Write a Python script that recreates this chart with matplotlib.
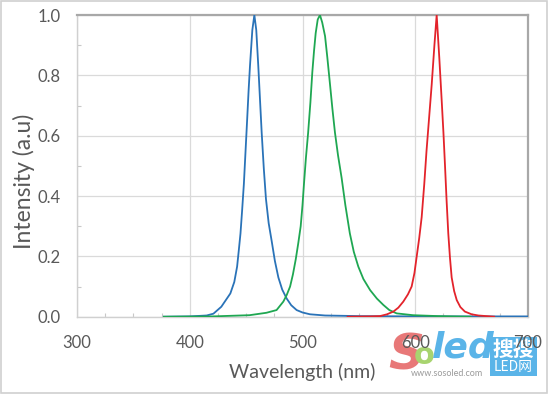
import matplotlib
matplotlib.use("Agg")
import matplotlib.pyplot as plt
from matplotlib.ticker import MultipleLocator
from matplotlib.patches import Rectangle

# Data
blue_x = [377, 400, 415, 421, 428, 436, 439.5, 442, 443.5, 445, 446.5, 448, 449.5, 451, 452.2, 453.4, 455.5,
          457.3, 459, 460.8, 462.3, 463.8, 465.7, 467.6, 470, 472.7, 475.5, 478.6, 482, 486, 490, 494.8,
          500, 506.6, 520, 550, 600, 650, 700]
blue_y = [0.0, 0.001, 0.004, 0.01, 0.033, 0.077, 0.115, 0.166, 0.22, 0.276, 0.355, 0.44, 0.55, 0.66, 0.75,
          0.83, 0.95, 1.0, 0.95, 0.83, 0.72, 0.61, 0.49, 0.39, 0.31, 0.25, 0.185, 0.13, 0.09, 0.06, 0.038,
          0.022, 0.014, 0.008, 0.004, 0.002, 0.001, 0.001, 0.001]
green_x = [377, 420, 453, 468, 477, 483, 486, 489, 491.5, 494, 496.3, 498.4, 500, 501.3, 503, 505, 507,
           508.7, 510.2, 511.7, 513.5, 515.5, 517.5, 520, 522, 524.4, 526.5, 528.8, 531.5, 534.7, 538, 542,
           545.5, 549.5, 554, 560, 566, 571.7, 577, 583.5, 598, 620, 649]
green_y = [0.0, 0.001, 0.005, 0.013, 0.022, 0.05, 0.072, 0.1, 0.14, 0.19, 0.245, 0.30, 0.37, 0.44, 0.525,
           0.61, 0.71, 0.81, 0.88, 0.94, 0.985, 1.0, 0.975, 0.93, 0.86, 0.77, 0.69, 0.61, 0.535, 0.46, 0.37,
           0.276, 0.215, 0.166, 0.125, 0.088, 0.06, 0.039, 0.022, 0.011, 0.005, 0.002, 0.0]
red_x = [540, 560, 568.7, 575, 580.6, 585, 589.4, 593.5, 596.8, 599.3, 601.3, 603.5, 605.7, 608, 610, 612.3,
         614.6, 617, 619, 621.3, 623.4, 625, 626.4, 627.8, 629.3, 630.8, 632.3, 634.5, 636.8, 640, 644, 650,
         656, 670]
red_y = [0.0, 0.001, 0.002, 0.008, 0.017, 0.03, 0.05, 0.074, 0.1, 0.145, 0.2, 0.26, 0.33, 0.44, 0.55, 0.66,
         0.77, 0.9, 1.0, 0.86, 0.72, 0.61, 0.50, 0.385, 0.276, 0.195, 0.13, 0.085, 0.055, 0.032, 0.017,
         0.008, 0.004, 0.0]

x_ticks = [300, 400, 500, 600, 700]
y_ticks = [0.0, 0.2, 0.4, 0.6, 0.8, 1.0]
y_tick_labels = ["0.0", "0.2", "0.4", "0.6", "0.8", "1.0"]

plt.rcParams['font.family'] = ['Lato', 'Noto Sans CJK SC', 'DejaVu Sans']

W, H = 550, 395
fig = plt.figure(figsize=(W / 100, H / 100), dpi=100)
fig.patch.set_facecolor('white')
# figure frame
fig.add_artist(Rectangle((0.002, 0.004), 0.993, 0.994, transform=fig.transFigure,
                         fill=False, edgecolor='#d0d0d0', linewidth=1.2))

L, R, T, B = 77, 528, 15, 316.7
ax = fig.add_axes([L / W, (H - B) / H, (R - L) / W, (B - T) / H])
ax.set_zorder(1)
ax.patch.set_alpha(0)

ax.plot(blue_x, blue_y, color='#2a73b8', lw=1.3, zorder=3)
ax.plot(green_x, green_y, color='#1fa752', lw=1.3, zorder=3)
ax.plot(red_x, red_y, color='#e3232b', lw=1.3, zorder=4)

ax.set_xlim(300, 700)
ax.set_ylim(0, 1.0)
ax.set_xticks(x_ticks)
ax.set_yticks(y_ticks)
ax.set_yticklabels(y_tick_labels)
ax.xaxis.set_minor_locator(MultipleLocator(25))
ax.yaxis.set_minor_locator(MultipleLocator(0.1))
ax.tick_params(which='major', length=0, labelsize=12, labelcolor='#595959')
ax.tick_params(which='minor', direction='in', length=3, color='#c8c8c8', width=0.8)
ax.tick_params(axis='x', which='major', pad=13)
ax.tick_params(axis='y', which='major', pad=12)

ax.grid(True, which='major', color='#dadada', lw=0.9)
ax.set_axisbelow(True)

for s in ['left', 'bottom']:
    ax.spines[s].set_color('#d0d0d0')
    ax.spines[s].set_linewidth(1.0)
for s in ['top', 'right']:
    ax.spines[s].set_color('#a8a8a8')
    ax.spines[s].set_linewidth(1.6)

ax.set_xlabel('Wavelength (nm)', fontsize=14, color='#595959', labelpad=9)
fig.text(24 / W, 1 - 181 / H, 'Intensity (a.u)', fontsize=16.5, color='#595959',
         rotation=90, ha='center', va='center')

# watermark (drawn beneath the axes so tick labels sit on top)
wz = 0
fig.text(406 / W, 1 - 355 / H, 'S', fontsize=36, color='#e87878', fontweight='bold',
         fontstyle='italic', ha='center', va='center', family=['DejaVu Sans'], zorder=wz)
fig.text(424 / W, 1 - 356 / H, 'o', fontsize=22, color='#a8d46f', fontweight='bold',
         ha='center', va='center', family=['DejaVu Sans'], zorder=wz)
fig.text(463 / W, 1 - 348 / H, 'led', fontsize=26, color='#5ab4e8', fontweight='bold',
         fontstyle='italic', ha='center', va='center', family=['DejaVu Sans'], zorder=wz)
fig.text(447 / W, 1 - 374 / H, 'www.sosoled.com', fontsize=6.5, color='#9a9a9a',
         ha='center', va='center', zorder=wz)
fig.add_artist(Rectangle((490 / W, 1 - 376 / H), 47 / W, 39 / H, transform=fig.transFigure,
                         facecolor='#5ab4e8', edgecolor='none', zorder=wz))
fig.text(513.5 / W, 1 - 349 / H, '搜搜', fontsize=15, color='white', fontweight='bold',
         ha='center', va='center', family=['Noto Sans CJK SC'], zorder=wz + 0.1)
fig.text(513.5 / W, 1 - 367 / H, 'LED网', fontsize=10, color='white',
         ha='center', va='center', family=['Noto Sans CJK SC'], zorder=wz + 0.1)

fig.savefig('out.png', dpi=100)
